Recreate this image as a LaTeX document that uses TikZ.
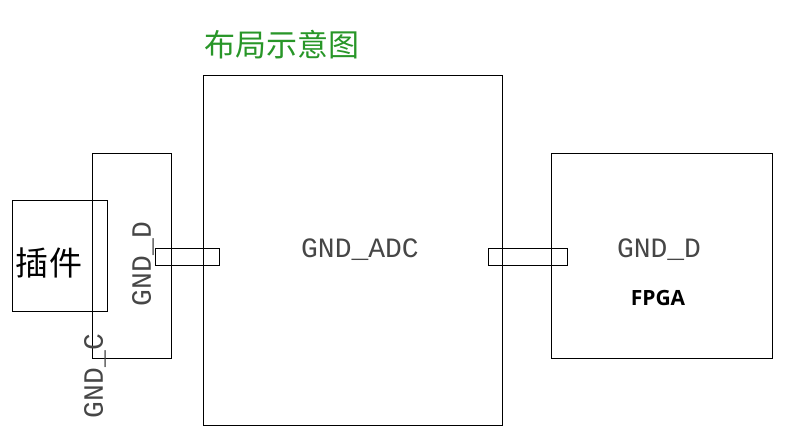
\documentclass[tikz,border=0pt]{standalone}
\usepackage{fontspec}
\newfontfamily\netfont{Liberation Mono}
\setsansfont{Open Sans}
\newfontfamily\cjk{Noto Sans CJK SC}
\usetikzlibrary{positioning}
\definecolor{titlegreen}{RGB}{40,150,40}
\definecolor{labgray}{RGB}{70,70,70}
\tikzset{
  blk/.style={draw,thick,line width=0.9pt},
  net/.style={font=\netfont\fontsize{28}{28}\selectfont,text=labgray,inner sep=0pt},
}
\begin{document}
\begin{tikzpicture}[x=1pt,y=-1pt]
\useasboundingbox (0,0) rectangle (791,438);
% boxes
\draw[blk] (203,75) rectangle (502,425);
\draw[blk] (92,153) rectangle (171,358);
\draw[blk] (12,200) rectangle (107,311);
\draw[blk] (551,153) rectangle (772,358);
\draw[blk] (155,248) rectangle (219,265);
\draw[blk] (488,248) rectangle (567,265);
% labels
\node[anchor=west,text=titlegreen,font=\cjk\fontsize{31}{31}\selectfont,inner sep=0pt] (title) at (204,45) {布局示意图};
\node[font=\cjk\fontsize{33}{33}\selectfont,inner sep=0pt] (plug) at (49,263) {插件};
\node[net] (adc) at (360,250) {GND\_ADC};
\node[net] (gndd) at (659,250) {GND\_D};
\node[font=\sffamily\bfseries\fontsize{21}{21}\selectfont,inner sep=0pt] (fpga) at (658,298) {FPGA};
\node[net,rotate=90] (gnddl) at (143,264) {GND\_D};
\node[net,rotate=90] (gndc) at (95,376) {GND\_C};
\end{tikzpicture}
\end{document}
